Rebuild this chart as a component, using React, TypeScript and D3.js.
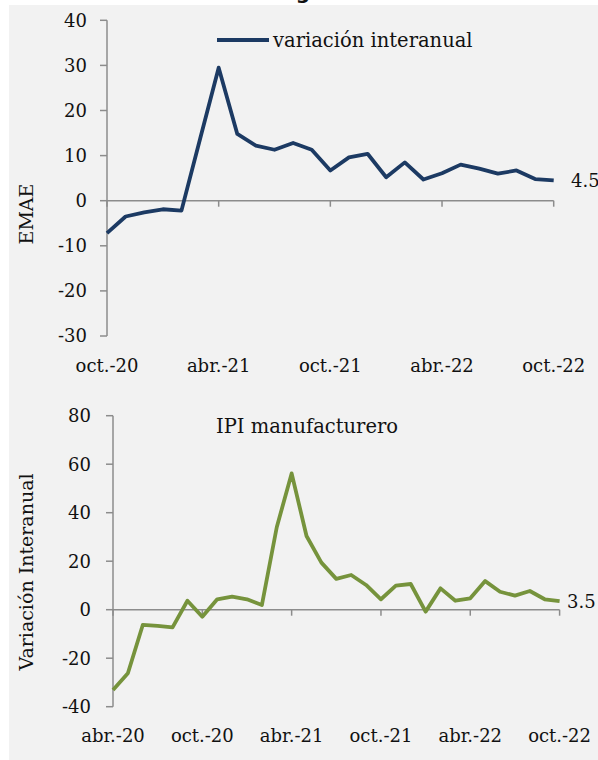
import React from "react";
import * as d3 from "d3";

// ---- data ----
const emaeMonths = [
  "oct.-20","nov.-20","dic.-20","ene.-21","feb.-21","mar.-21","abr.-21","may.-21","jun.-21",
  "jul.-21","ago.-21","sep.-21","oct.-21","nov.-21","dic.-21","ene.-22","feb.-22","mar.-22",
  "abr.-22","may.-22","jun.-22","jul.-22","ago.-22","sep.-22","oct.-22",
];
const emaeValues = [
  -7.2, -3.5, -2.6, -1.9, -2.2, 13.7, 29.5, 14.8, 12.2, 11.3, 12.8, 11.3, 6.7,
  9.6, 10.4, 5.2, 8.5, 4.7, 6.1, 8.0, 7.1, 6.0, 6.7, 4.8, 4.5,
];
const emaeTickLabels = ["oct.-20", "abr.-21", "oct.-21", "abr.-22", "oct.-22"];
const emaeYTicks = [-30, -20, -10, 0, 10, 20, 30, 40];

const ipiMonths = [
  "abr.-20","may.-20","jun.-20","jul.-20","ago.-20","sep.-20","oct.-20","nov.-20","dic.-20",
  "ene.-21","feb.-21","mar.-21","abr.-21","may.-21","jun.-21","jul.-21","ago.-21","sep.-21",
  "oct.-21","nov.-21","dic.-21","ene.-22","feb.-22","mar.-22","abr.-22","may.-22","jun.-22",
  "jul.-22","ago.-22","sep.-22","oct.-22",
];
const ipiValues = [
  -33.1, -26.2, -6.3, -6.7, -7.3, 3.7, -2.9, 4.3, 5.4, 4.3, 1.9, 34.0, 56.2, 30.4,
  19.4, 12.7, 14.3, 10.2, 4.3, 9.9, 10.6, -0.8, 8.8, 3.7, 4.7, 11.8, 7.4, 5.8, 7.7,
  4.3, 3.5,
];
const ipiTickLabels = ["abr.-20", "oct.-20", "abr.-21", "oct.-21", "abr.-22", "oct.-22"];
const ipiYTicks = [-40, -20, 0, 20, 40, 60, 80];

const NAVY = "#1c3a63";
const GREEN = "#76933c";
const AXIS = "#8c8c8c";
const FONT = "'DejaVu Serif', serif";

type PanelProps = {
  months: string[];
  values: number[];
  tickLabels: string[];
  yTicks: number[];
  yDomain: [number, number];
  x0: number; x1: number; yTop: number; yBottom: number;
  color: string;
  yLabel: string;
  yLabelX: number;
  yLabelY: number;
  xLabelY: number;
  tickLabelX: number;
  endLabel: string;
  endLabelX: number;
};

function Panel(p: PanelProps) {
  const x = d3.scaleLinear().domain([0, p.months.length - 1]).range([p.x0, p.x1]);
  const y = d3.scaleLinear().domain(p.yDomain).range([p.yBottom, p.yTop]);
  const line = d3.line<number>().x((_, i) => x(i)).y((d) => y(d));
  const tickIdx = p.tickLabels.map((t) => p.months.indexOf(t));
  const last = p.values.length - 1;
  return (
    <g>
      {/* y axis */}
      <line x1={p.x0} x2={p.x0} y1={y(p.yDomain[1])} y2={y(p.yDomain[0])} stroke={AXIS} strokeWidth={1.5} />
      {p.yTicks.map((t) => (
        <g key={t}>
          <line x1={p.x0 - 7} x2={p.x0} y1={y(t)} y2={y(t)} stroke={AXIS} strokeWidth={1.5} />
          <text x={p.tickLabelX} y={y(t)} dy="0.36em" textAnchor="end" fontFamily={FONT} fontSize={18} fill="#111">
            {t}
          </text>
        </g>
      ))}
      {/* x axis at zero */}
      <line x1={p.x0} x2={p.x1} y1={y(0)} y2={y(0)} stroke={AXIS} strokeWidth={1.5} />
      {tickIdx.map((i, k) => (
        <g key={k}>
          <line x1={x(i)} x2={x(i)} y1={y(0)} y2={y(0) + 6} stroke={AXIS} strokeWidth={1.5} />
          <text x={x(i)} y={p.xLabelY} textAnchor="middle" fontFamily={FONT} fontSize={18} fill="#111">
            {p.tickLabels[k]}
          </text>
        </g>
      ))}
      <path d={line(p.values) || ""} fill="none" stroke={p.color} strokeWidth={3.8} strokeLinejoin="round" />
      <text x={p.endLabelX} y={y(p.values[last])} dy="0.36em" fontFamily={FONT} fontSize={18} fill="#111">
        {p.endLabel}
      </text>
      <text
        transform={`translate(${p.yLabelX},${p.yLabelY}) rotate(-90)`}
        textAnchor="middle"
        dy="0.36em"
        fontFamily={FONT}
        fontSize={19}
        fill="#111"
      >
        {p.yLabel}
      </text>
    </g>
  );
}

export default function App() {
  return (
    <div style={{ position: "absolute", left: 0, top: 0 }}>
      <svg width={598} height={760} style={{ display: "block" }}>
        <rect x={0} y={0} width={598} height={760} fill="#ffffff" />
        <rect x={9} y={5} width={589} height={755} fill="#f2f2f2" />
        <text x={303} y={-1} textAnchor="middle" fontFamily="'DejaVu Sans', sans-serif" fontWeight="bold" fontSize={20} fill="#111">
          g
        </text>

        <Panel
          months={emaeMonths}
          values={emaeValues}
          tickLabels={emaeTickLabels}
          yTicks={emaeYTicks}
          yDomain={[-30, 40]}
          x0={107} x1={553.7} yTop={20.3} yBottom={336}
          color={NAVY}
          yLabel="EMAE"
          yLabelX={26}
          yLabelY={214}
          xLabelY={372}
          tickLabelX={87}
          endLabel="4.5"
          endLabelX={571}
        />
        {/* legend */}
        <line x1={217} x2={269} y1={40} y2={40} stroke={NAVY} strokeWidth={3.8} />
        <text x={273} y={40} dy="0.36em" fontFamily={FONT} fontSize={19.5} fill="#111">
          variación interanual
        </text>

        <Panel
          months={ipiMonths}
          values={ipiValues}
          tickLabels={ipiTickLabels}
          yTicks={ipiYTicks}
          yDomain={[-40, 80]}
          x0={113} x1={559.6} yTop={415.7} yBottom={706.7}
          color={GREEN}
          yLabel="Variación Interanual"
          yLabelX={26}
          yLabelY={572}
          xLabelY={742}
          tickLabelX={91}
          endLabel="3.5"
          endLabelX={567}
        />
        <text x={216} y={432.5} fontFamily={FONT} fontSize={19.5} fill="#111">
          IPI manufacturero
        </text>
      </svg>
    </div>
  );
}
